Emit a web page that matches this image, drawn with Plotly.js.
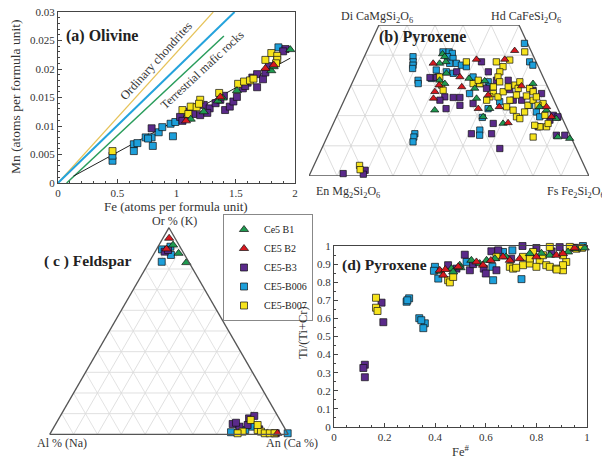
<!DOCTYPE html>
<html><head><meta charset="utf-8">
<script src="https://cdn.plot.ly/plotly-3.0.1.min.js"></script>
<style>html,body{margin:0;padding:0;background:#fff}#chart{width:602px;height:459px}</style>
</head><body><div id="chart"></div>
<script>
// ---------- (a) Olivine: Fe vs Mn (apfu) ----------
const olB1_fe = [1.12,1.23,1.35,1.39,1.51,1.80,1.82,1.96];
const olB1_mn = [0.0112,0.0125,0.0144,0.0149,0.0162,0.0197,0.0204,0.0234];
const olB2_fe = [1.08,1.37,1.75,1.82];
const olB2_mn = [0.0109,0.0151,0.0201,0.0207];
const olB3_fe = [0.79,1.03,1.05,1.10,1.14,1.23,1.28,1.33,1.37,1.40,1.41,1.45,1.48,1.51,1.56,1.60,1.64,1.68,1.73,1.75,1.68,1.78,1.92,1.90,1.10,1.20,1.26,1.58];
const olB3_mn = [0.0096,0.0116,0.0109,0.0125,0.0121,0.0137,0.0131,0.0140,0.0146,0.0153,0.0128,0.0134,0.0143,0.0151,0.0166,0.0176,0.0185,0.0191,0.0182,0.0194,0.0168,0.0205,0.0235,0.0231,0.0115,0.0119,0.0123,0.0170];
const olB006_fe = [0.46,0.46,0.64,0.64,0.67,0.74,0.79,0.80,0.85,0.88,0.95,0.97,0.99,1.86,0.76];
const olB006_mn = [0.0039,0.0048,0.0068,0.0056,0.0070,0.0080,0.0080,0.0065,0.0089,0.0098,0.0104,0.0082,0.0107,0.0238,0.0078];
const olB007_fe = [0.46,1.05,1.12,1.17,1.20,1.19,1.36,1.52,1.57,1.62,1.65,1.75,1.80,1.85,1.85,1.84,1.10];
const olB007_mn = [0.0056,0.0128,0.0134,0.0133,0.0146,0.0139,0.0158,0.0174,0.0178,0.0180,0.0183,0.0216,0.0228,0.0223,0.0216,0.0210,0.0121];
// reference trend lines
const lineOC_fe = [0, 1.31],   lineOC_mn = [0, 0.03];      // Ordinary chondrites
const lineMid_fe = [0, 1.49],  lineMid_mn = [0, 0.03];
const lineTMR_fe = [0.073, 1.40], lineTMR_mn = [0, 0.0258]; // Terrestrial mafic rocks
const lineFit_fe = [0.13, 1.96], lineFit_mn = [0.0012, 0.0219];

// ---------- (b) Pyroxene quadrilateral: Wo %, Fs % ----------
const pxB1_wo = [40.4,39.5,37.8,34.0,31.7,30.6,21.8,31.5,29.0,32.3,25.7,22.3,19.6,30.6,22.9,19.0,12.9,12.4,21.8,37.3,17.4];
const pxB1_fs = [27.5,28.7,30.0,32.1,30.8,33.2,34.0,47.0,44.7,41.0,47.0,53.4,52.4,64.7,70.9,78.8,82.4,86.9,73.9,28.0,60.6];
const pxB2_wo = [38.6,41.5,37.3,32.8,27.9,30.1,38.6,29.5,25.7,22.3,22.9,17.6,29.8,22.9,19.6,26.8];
const pxB2_fs = [40.5,52.7,25.7,37.5,31.0,31.4,50.6,39.8,31.6,49.3,56.5,62.3,61.0,73.4,76.8,50.6];
const pxB3_wo = [37.8,32.6,32.6,26.2,26.0,26.0,22.3,23.4,24.0,14.0,14.0,9.1,17.4,28.6,25.1,25.1,28.4,27.3,20.1,19.6,13.5,13.5,18.5,16.3,34.5,34.5,25.1,0.8,1.9,0.6,31.7,31.7,29.0];
const pxB3_fs = [42.7,26.9,29.2,35.4,38.5,40.9,37.8,42.2,46.6,51.0,58.2,63.6,57.1,57.4,60.4,63.4,65.8,69.4,77.2,79.1,81.6,84.6,76.8,73.7,46.8,35.5,34.2,11.8,19.1,19.1,51.1,55.3,48.9];
const pxB006_wo = [39.5,37.8,36.7,35.6,31.7,30.6,14.0,12.9,11.3,41.1,41.1,40.6,39.5,38.9,37.3,37.3,36.7,32.3,32.8,34.5,34.0,36.2,27.3,30.6,31.2,29.5,24.6,15.2,13.5,22.3,43.9,37.8,36.7,21.2,19.6,23.4,19.4,35.1,32.8];
const pxB006_fs = [17.4,18.3,18.8,19.2,23.1,23.7,30.8,31.0,31.5,27.3,29.5,30.9,29.7,32.0,31.6,34.0,36.1,27.6,29.7,31.8,34.5,38.1,43.7,45.7,48.4,49.8,55.8,53.4,54.2,52.8,55.0,59.9,61.6,70.6,72.6,67.1,52.2,27.9,42.2];
const pxB007_wo = [37.8,36.2,38.4,34.5,32.8,31.2,29.5,27.3,26.2,27.9,29.5,25.1,30.1,29.0,31.2,26.2,25.1,30.6,30.6,22.9,21.8,19.6,19.0,21.2,23.4,25.1,29.0,27.9,26.2,26.5,24.0,16.3,16.3,17.4,16.8,12.9,41.1,32.8,30.1,28.4,31.7,37.8,3.5,2.1,26.8,23.4,20.1];
const pxB007_fs = [48.0,51.2,52.5,50.9,51.1,52.5,51.1,52.2,54.4,55.4,56.4,59.2,58.5,60.2,59.7,51.5,50.9,45.7,43.3,59.1,62.0,64.3,65.8,66.4,66.5,67.5,64.3,66.1,68.1,64.4,71.6,74.3,76.7,76.7,72.2,73.6,56.5,30.3,32.3,33.7,44.6,37.3,16.3,17.2,60.7,70.1,74.2];
const quadGrid = [10,20,30,40,50,60,70,80,90];
const quadWoLines = [10,20,30,40];

// ---------- (c) Feldspar ternary: Or, Ab, An % ----------
const fsB1_or = [91.6,87.6,83.1], fsB1_ab = [2.5,2.2,1.2], fsB1_an = [5.9,10.2,15.7];
const fsB2_or = [94.9,89.7,0.5], fsB2_ab = [2.5,6.2,4.3], fsB2_an = [2.6,4.1,95.2];
const fsB3_or = [88.4,89.2,5.0,3.7,5.6,7.7,8.9,2.4,0.5,4.5];
const fsB3_ab = [7.6,5.8,20.8,18.6,19.1,12.6,9.8,11.0,5.0,14.8];
const fsB3_an = [4.0,5.0,74.2,77.7,75.3,79.7,81.3,86.6,94.5,80.7];
const fsB006_or = [89.5,90.8,86.8,83.5,0.5,1.0,2.1,3.7,1.7];
const fsB006_ab = [8.2,4.0,5.8,11.3,0,23.5,17.0,13.1,19.7];
const fsB006_an = [2.3,5.2,7.4,5.2,99.5,75.5,80.9,83.2,78.6];
const fsB007_or = [6.9,1.3,2.1,1.3,0.5,0.5,0.5,4.5,0.5];
const fsB007_ab = [12.3,18.5,11.8,10.8,9.6,7.5,5.5,10.6,21.0];
const fsB007_an = [80.8,80.2,86.1,87.9,89.9,92.0,94.0,84.9,78.5];

// ---------- (d) Pyroxene: Fe# vs Ti/(Ti+Cr) ----------
const dB1_fe = [0.543,0.497,0.464,0.603,0.636,0.774,0.853,0.925,0.991,0.958,0.471,0.576,0.42,0.50,0.68,0.82];
const dB1_ti = [0.921,0.894,0.875,0.921,0.930,0.958,0.949,0.967,0.989,0.985,0.857,0.903,0.86,0.88,0.94,0.96];
const dB2_fe = [0.418,0.432,0.563,0.668,0.695,0.734,0.800,0.879,0.905,0.951,0.491,0.589,0.44,0.62];
const dB2_ti = [0.866,0.839,0.912,0.940,0.921,0.930,0.940,0.949,0.958,0.989,0.885,0.894,0.87,0.92];
const dB3_fe = [0.122,0.116,0.122,0.188,0.195,0.517,0.451,0.592,0.600,0.622,0.649,0.642,0.745,0.800,0.892,0.537,0.484,0.55,0.70,0.86,0.95];
const dB3_ti = [0.344,0.326,0.275,0.687,0.579,0.952,0.894,0.875,0.848,0.971,0.976,0.866,1.0,0.989,0.994,0.866,0.875,0.90,0.93,0.97,0.99];
const dB006_fe = [0.287,0.297,0.337,0.359,0.353,0.399,0.395,0.412,0.524,0.668,0.705,0.626,0.629,0.741,0.984,0.29,0.345];
const dB006_ti = [0.692,0.711,0.601,0.573,0.546,0.885,0.863,0.820,0.912,0.967,0.976,0.885,0.811,0.817,1.0,0.70,0.59];
const dB007_fe = [0.166,0.166,0.172,0.451,0.458,0.695,0.708,0.747,0.774,0.813,0.839,0.853,0.879,0.905,0.918,0.853,0.787,0.932,0.747,0.642,0.774,0.826,0.905,0.958,0.800,0.905,0.471,0.72,0.88,0.98];
const dB007_ti = [0.714,0.659,0.641,0.811,0.799,0.885,0.875,0.894,0.903,0.921,0.894,0.885,0.875,0.866,0.912,0.995,0.967,0.995,0.940,0.940,0.931,0.949,0.949,0.985,0.885,0.894,0.829,0.88,0.87,0.99];

const sampleNames = ['Ce5 B1','CE5 B2','CE5-B3','CE5-B006','CE5-B007'];

// ================= build =================
const W = 602, H = 459;
const PX = x => x / W, PY = y => 1 - y / H;
const FONT = 'Liberation Serif, Times New Roman, serif';

const style = {
  'Ce5 B1':   {color:'#1f9a50', symbol:'triangle-up', size:8, rank:1},
  'CE5 B2':   {color:'#d7181f', symbol:'triangle-up', size:8, rank:2},
  'CE5-B3':   {color:'#5a2a8a', symbol:'square', size:7, rank:3},
  'CE5-B006': {color:'#1d9fda', symbol:'square', size:7, rank:4},
  'CE5-B007': {color:'#f6e31c', symbol:'square', size:7, rank:5}
};
const drawOrder = ['CE5-B006','CE5-B3','CE5-B007','Ce5 B1','CE5 B2'];

const olData = {'Ce5 B1':[olB1_fe,olB1_mn],'CE5 B2':[olB2_fe,olB2_mn],'CE5-B3':[olB3_fe,olB3_mn],'CE5-B006':[olB006_fe,olB006_mn],'CE5-B007':[olB007_fe,olB007_mn]};
const pxData = {'Ce5 B1':[pxB1_fs,pxB1_wo],'CE5 B2':[pxB2_fs,pxB2_wo],'CE5-B3':[pxB3_fs,pxB3_wo],'CE5-B006':[pxB006_fs,pxB006_wo],'CE5-B007':[pxB007_fs,pxB007_wo]};
const fsData = {'Ce5 B1':[fsB1_or,fsB1_ab,fsB1_an],'CE5 B2':[fsB2_or,fsB2_ab,fsB2_an],'CE5-B3':[fsB3_or,fsB3_ab,fsB3_an],'CE5-B006':[fsB006_or,fsB006_ab,fsB006_an],'CE5-B007':[fsB007_or,fsB007_ab,fsB007_an]};
const dData = {'Ce5 B1':[dB1_fe,dB1_ti],'CE5 B2':[dB2_fe,dB2_ti],'CE5-B3':[dB3_fe,dB3_ti],'CE5-B006':[dB006_fe,dB006_ti],'CE5-B007':[dB007_fe,dB007_ti]};

function mk(name, scale){
  const s = style[name];
  return {color:s.color, symbol:s.symbol, size:s.size*(scale||1), line:{color:'#111', width:0.7}};
}

const traces = [];
// (a) lines
traces.push({x:lineOC_fe, y:lineOC_mn, mode:'lines', line:{color:'#e6c35a', width:1.2}, xaxis:'x', yaxis:'y', showlegend:false, hoverinfo:'skip'});
traces.push({x:lineMid_fe, y:lineMid_mn, mode:'lines', line:{color:'#25a3dc', width:2}, xaxis:'x', yaxis:'y', showlegend:false, hoverinfo:'skip'});
traces.push({x:lineTMR_fe, y:lineTMR_mn, mode:'lines', line:{color:'#2a9d5c', width:1.5}, xaxis:'x', yaxis:'y', showlegend:false, hoverinfo:'skip'});
traces.push({x:lineFit_fe, y:lineFit_mn, mode:'lines', line:{color:'#222', width:1}, xaxis:'x', yaxis:'y', showlegend:false, hoverinfo:'skip'});

// (b) quadrilateral frame & grid
const qu = (fs, wo) => (fs + wo / 2) / 100;
const gx = [], gy = [];
quadGrid.forEach(f => { const wmax = Math.min(50, 100 - f); gx.push(qu(f,0), qu(f,wmax), null); gy.push(0, wmax, null); });
quadGrid.forEach(e => { const wmax = Math.min(50, 100 - e); gx.push(qu(100-e,0), qu(100-e-wmax,wmax), null); gy.push(0, wmax, null); });
quadWoLines.forEach(w => { gx.push(qu(0,w), qu(100-w,w), null); gy.push(w, w, null); });
traces.push({x:gx, y:gy, mode:'lines', line:{color:'#d4d4d4', width:0.8}, xaxis:'x2', yaxis:'y2', showlegend:false, hoverinfo:'skip', cliponaxis:false});
const frameFs = [0, 100, 50, 0, 0], frameWo = [0, 0, 50, 50, 0];
traces.push({x:frameFs.map((f,i)=>qu(f,frameWo[i])), y:frameWo, mode:'lines', line:{color:'#555', width:1.3}, xaxis:'x2', yaxis:'y2', showlegend:false, hoverinfo:'skip', cliponaxis:false});

drawOrder.forEach(name => {
  const s = style[name];
  traces.push({x:olData[name][0], y:olData[name][1], mode:'markers', marker:mk(name), xaxis:'x', yaxis:'y', name:name, legendgroup:name, legendrank:s.rank, showlegend:true, cliponaxis:false});
  const [fsv, wov] = pxData[name];
  traces.push({x:fsv.map((f,i)=>qu(f,wov[i])), y:wov, mode:'markers', marker:mk(name,0.9), xaxis:'x2', yaxis:'y2', name:name, legendgroup:name, showlegend:false, cliponaxis:false});
  traces.push({type:'scatterternary', a:fsData[name][0], b:fsData[name][1], c:fsData[name][2], mode:'markers', marker:mk(name), subplot:'ternary', name:name, legendgroup:name, showlegend:false, cliponaxis:false});
  traces.push({x:dData[name][0], y:dData[name][1], mode:'markers', marker:mk(name), xaxis:'x3', yaxis:'y3', name:name, legendgroup:name, showlegend:false, cliponaxis:false});
});

const axCommon = {showline:true, linecolor:'#444', linewidth:1, mirror:true, ticks:'inside', ticklen:4, tickcolor:'#444', showgrid:false, zeroline:false, tickfont:{family:FONT, size:11, color:'#333'}, fixedrange:true};
const ternAx = () => ({title:{text:''}, showticklabels:false, ticks:'', dtick:10, showgrid:true, gridcolor:'#dcdcdc', gridwidth:0.8, showline:true, linecolor:'#555', linewidth:1.3, min:0});

const ann = [];
const A = (text, x, y, o) => ann.push(Object.assign({text, x:PX(x), y:PY(y), xref:'paper', yref:'paper', xanchor:'center', yanchor:'middle', showarrow:false, font:{family:FONT, size:12, color:'#333'}}, o||{}));
A('<b>(a) Olivine</b>', 102, 36, {font:{family:FONT, size:16, color:'#222'}});
A('<b>(b) Pyroxene</b>', 422, 37, {font:{family:FONT, size:16, color:'#222'}});
A('<b>( c ) Feldspar</b>', 88, 261, {font:{family:FONT, size:15.5, color:'#222'}});
A('<b>(d) Pyroxene</b>', 384, 265, {font:{family:FONT, size:15.5, color:'#222'}});
A('Ordinary chondrites', 156, 61, {textangle:-48, font:{family:FONT, size:12.5, color:'#333'}});
A('Terrestrial mafic rocks', 202, 70, {textangle:-43, font:{family:FONT, size:12, color:'#333'}});
A('Mn (atoms per formula unit)', 15, 97, {textangle:-90, font:{family:FONT, size:13.5, color:'#333'}});
A('Fe (atoms per formula unit)', 176, 206, {font:{family:FONT, size:13, color:'#333'}});
A('Ti/(Ti+Cr)', 303, 333, {textangle:-90, font:{family:FONT, size:12.5, color:'#333'}});
A('Fe<sup>#</sup>', 461, 451, {font:{family:FONT, size:12.5, color:'#333'}});
A('Di CaMgSi<sub>2</sub>O<sub>6</sub>', 377, 17);
A('Hd CaFeSi<sub>2</sub>O<sub>6</sub>', 526, 17);
A('En Mg<sub>2</sub>Si<sub>2</sub>O<sub>6</sub>', 348, 192);
A('Fs Fe<sub>2</sub>Si<sub>2</sub>O<sub>6</sub>', 545, 192, {xanchor:'left'});
A('Or % (K)', 174, 221);
A('Al % (Na)', 62, 443);
A('An (Ca %)', 292, 443);

const layout = {
  width:W, height:H, margin:{l:0, r:0, t:0, b:0}, paper_bgcolor:'#fff', plot_bgcolor:'rgba(0,0,0,0)',
  font:{family:FONT, color:'#333', size:11},
  showlegend:true,
  legend:{x:PX(223), y:PY(214), xanchor:'left', yanchor:'top', bgcolor:'#fff', bordercolor:'#888', borderwidth:1, font:{family:FONT, size:10, color:'#222'}, tracegroupgap:0, itemwidth:30},
  xaxis: Object.assign({}, axCommon, {domain:[PX(58), PX(295)], range:[0,2], tick0:0, dtick:0.5, anchor:'y', minor:{ticks:'inside', ticklen:2, dtick:0.1, tickcolor:'#444', showgrid:false}}),
  yaxis: Object.assign({}, axCommon, {domain:[PY(183), PY(12)], range:[0,0.03], tick0:0, dtick:0.005, anchor:'x', minor:{ticks:'inside', ticklen:2, dtick:0.001, tickcolor:'#444', showgrid:false}}),
  xaxis2: {domain:[PX(309), PX(589)], range:[0,1], visible:false, fixedrange:true, anchor:'y2'},
  yaxis2: {domain:[PY(176), PY(25)], range:[0,50], visible:false, fixedrange:true, anchor:'x2'},
  xaxis3: Object.assign({}, axCommon, {domain:[PX(334), PX(587)], range:[0,1], tick0:0, dtick:0.2, anchor:'y3', minor:{ticks:'inside', ticklen:2, dtick:0.05, tickcolor:'#444', showgrid:false}}),
  yaxis3: Object.assign({}, axCommon, {domain:[PY(427), PY(246)], range:[0,1], tick0:0, dtick:0.1, anchor:'x3', minor:{ticks:'inside', ticklen:2, dtick:0.05, tickcolor:'#444', showgrid:false}}),
  ternary: {domain:{x:[PX(49), PX(289)], y:[PY(434.3), PY(227.7)]}, sum:100, bgcolor:'rgba(0,0,0,0)',
    aaxis: ternAx(), baxis: ternAx(), caxis: ternAx()},
  annotations: ann
};

Plotly.newPlot('chart', traces, layout, {displayModeBar:false, staticPlot:true});
</script>
</body></html>
